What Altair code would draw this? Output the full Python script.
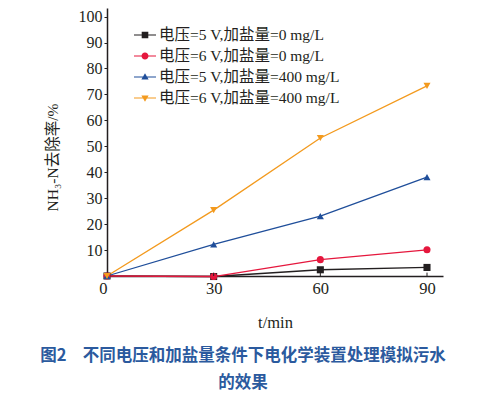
import altair as alt
import pandas as pd

times = [0, 30, 60, 90]
series_names = [
    "电压=5 V,加盐量=0 mg/L",
    "电压=6 V,加盐量=0 mg/L",
    "电压=5 V,加盐量=400 mg/L",
    "电压=6 V,加盐量=400 mg/L",
]
v5_s0 = [0, -0.2, 2.4, 3.3]
v6_s0 = [0, -0.2, 6.3, 10.1]
v5_s400 = [0, 12.2, 23.1, 38.1]
v6_s400 = [0, 25.4, 53.2, 73.3]
colors = ["#231f20", "#e5173d", "#1f4e9a", "#f39a1e"]
shapes = ["square", "circle", "triangle-up", "triangle-down"]
# legend symbols: a thin filled bar (the line) plus the marker (same winding)
bar = "M-1,-0.055H1V0.055H-1Z"
legend_paths = [
    bar + "M-0.3,-0.3H0.3V0.3H-0.3Z",
    bar + "M-0.32,0A0.32,0.32 0 1,1 0.32,0A0.32,0.32 0 1,1 -0.32,0Z",
    bar + "M0,-0.34L0.33,0.23H-0.33Z",
    bar + "M0,0.34L-0.33,-0.23H0.33Z",
]
x_ticks = [0, 30, 60, 90]
y_ticks = [10, 20, 30, 40, 50, 60, 70, 80, 90, 100]

rows = []
for name, vals in zip(series_names, [v5_s0, v6_s0, v5_s400, v6_s400]):
    for t, v in zip(times, vals):
        rows.append({"series": name, "t": t, "value": v})
df = pd.DataFrame(rows)

serif = "Liberation Serif, Noto Sans CJK SC"
ink = "#231f20"

x_enc = alt.X("t:Q", scale=alt.Scale(domain=[0, 94.5], nice=False),
              axis=alt.Axis(values=x_ticks, tickCount=10, title="t/min", grid=False,
                            domainColor=ink, domainWidth=1.5,
                            tickSize=0, labelFont=serif, labelFontSize=16.5,
                            labelColor=ink, labelPadding=4,
                            labelAlign={"expr": "datum.value == 0 ? 'right' : 'center'"},
                            titleFont=serif, titleFontSize=16.5, titleFontWeight="normal",
                            titleColor=ink, titleY=46, titleBaseline="middle"))
y_enc = alt.Y("value:Q", scale=alt.Scale(domain=[0, 103.3], nice=False, zero=False),
              axis=alt.Axis(values=y_ticks, tickCount=20, title="NH₃-N去除率/%", grid=False,
                            domainColor=ink, domainWidth=1.5,
                            tickColor=ink, tickSize=3, tickWidth=1,
                            labelFont=serif, labelFontSize=16, labelColor=ink,
                            labelPadding=2, labelOverlap=False,
                            titleFont=serif, titleFontSize=15.5, titleFontWeight="normal",
                            titleColor=ink, titleX=-55, titleY=149,
                            titleBaseline="middle", titleAngle=-90))

layers = []
for i, (name, colr, shp) in enumerate(zip(series_names, colors, shapes)):
    base = alt.Chart(df).transform_filter(alt.datum.series == name)
    layers.append(
        base.mark_line(strokeWidth=1.3, color=colr).encode(
            x=x_enc if i == 0 else "t:Q", y=y_enc if i == 0 else "value:Q")
    )
for name, colr, shp in zip(series_names, colors, shapes):
    base = alt.Chart(df).transform_filter(alt.datum.series == name)
    layers.append(
        base.mark_point(filled=True, size=50, opacity=1, shape=shp, color=colr)
        .encode(x="t:Q", y="value:Q")
    )

xticks_df = pd.DataFrame({"t": [30, 60, 90]})
inner_ticks = alt.Chart(xticks_df).mark_rule(color=ink, strokeWidth=1).encode(
    x="t:Q", y=alt.datum(0), y2=alt.datum(1.3)
)

leg = alt.Legend(title=None, orient="none", legendX=26, legendY=15,
                 symbolSize=484, symbolOpacity=1,
                 labelFont=serif, labelFontSize=15.5, labelColor=ink,
                 labelOffset=2, rowPadding=-5, labelLimit=400)
# legend only: no rows pass the filter, entries come from the explicit scale domains
legend_layer = alt.Chart(df).transform_filter("false").mark_point(filled=True).encode(
    x="t:Q", y="value:Q",
    color=alt.Color("series:N", scale=alt.Scale(domain=series_names, range=colors), legend=leg),
    shape=alt.Shape("series:N", scale=alt.Scale(domain=series_names, range=legend_paths), legend=leg),
)

chart = alt.layer(*layers, inner_ticks, legend_layer).properties(
    width=336, height=268,
    padding={"left": 99, "top": 0, "right": 35, "bottom": 115},
    autosize=alt.AutoSizeParams(type="none"),
    title=alt.TitleParams(
        text=["图2\u3000不同电压和加盐量条件下电化学装置处理模拟污水", "的效果"],
        orient="bottom", anchor="middle", frame="group", dx=-32, offset=17,
        font="Noto Sans CJK SC", fontSize=16.5, fontWeight="bold",
        color="#2b5a9e", lineHeight=27,
    ),
).configure_view(stroke=None)

chart.save("out.html", embed_options={"renderer": "svg", "actions": False})
